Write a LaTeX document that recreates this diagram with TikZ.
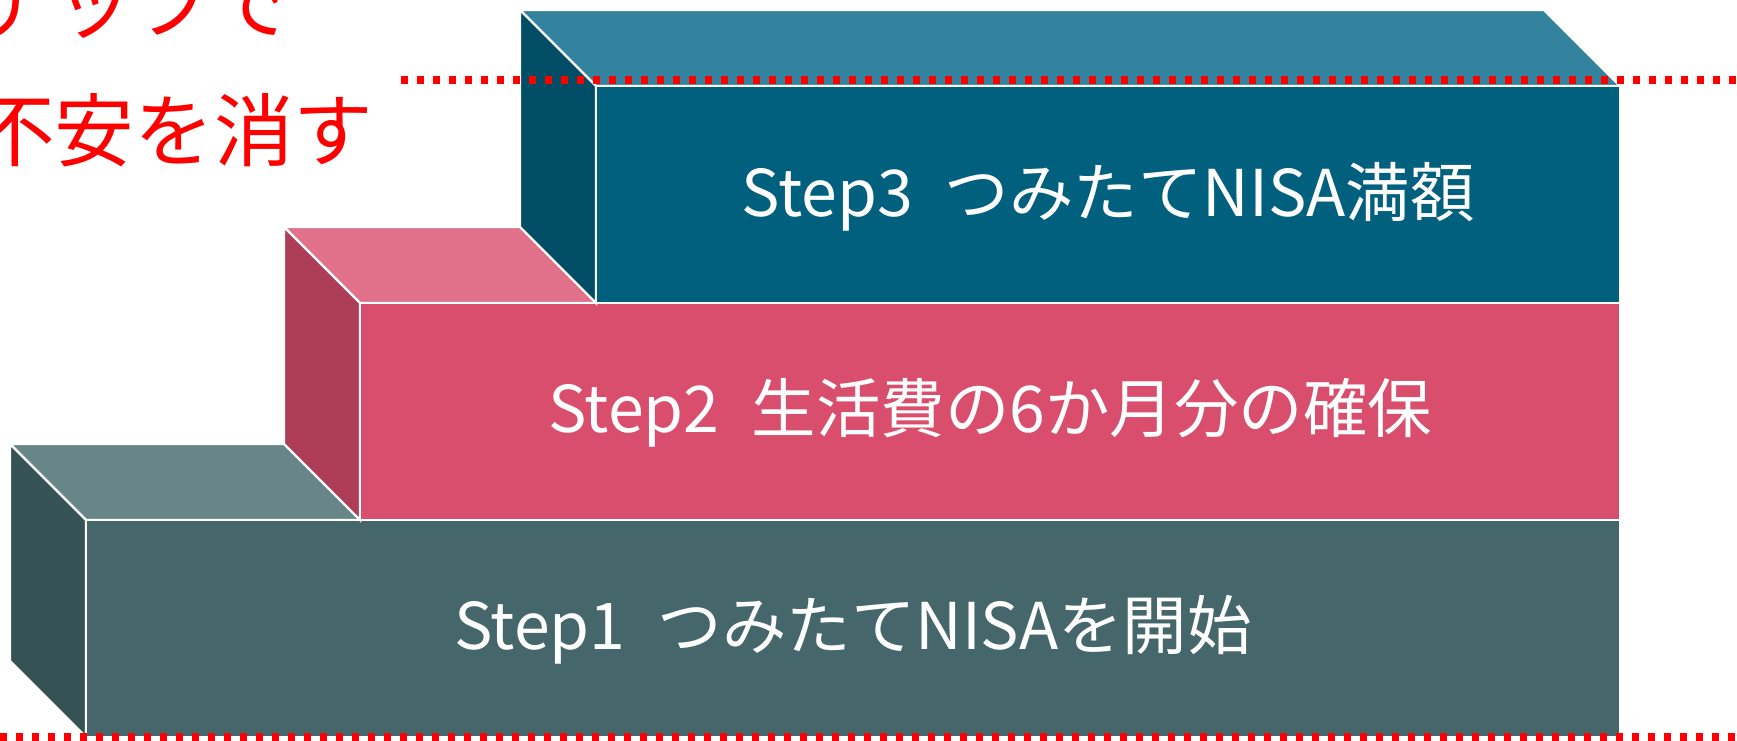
\documentclass[tikz,border=0pt]{standalone}
\usepackage{fontspec}
\setmainfont{Noto Sans CJK JP}
\definecolor{frontone}{HTML}{45676C}
\definecolor{topone}{HTML}{688687}
\definecolor{sideone}{HTML}{365254}
\definecolor{fronttwo}{HTML}{D94E6C}
\definecolor{toptwo}{HTML}{E1718A}
\definecolor{sidetwo}{HTML}{AE3E57}
\definecolor{frontthree}{HTML}{02607F}
\definecolor{topthree}{HTML}{33829E}
\definecolor{sidethree}{HTML}{024D66}
\begin{document}
\begin{tikzpicture}[x=0.03cm,y=-0.03cm,
	face/.style={draw=white,line width=2pt,line join=miter},
	steplabel/.style={text=white,inner sep=0pt,font=\fontsize{55}{66}\selectfont},
	redline/.style={red,line width=0.22cm,dash pattern=on 0.22cm off 0.26cm}]
	\useasboundingbox (0,0) rectangle (1737,741);
	% boxes: left x of front, top y of front
	\foreach \xf/\yf/\c in {86/520/one,360/303/two,596/86/three}
	{
	\draw[face,fill=top\c] (\xf,\yf) -- ++(-76,-76) -- (1544,\yf-76) -- (1620,\yf) -- cycle;
	\draw[face,fill=side\c] (\xf,\yf) -- ++(-76,-76) -- ++(0,217) -- ++(76,76) -- cycle;
	\draw[face,fill=front\c] (\xf,\yf) rectangle (1620,\yf+217);
	}
	% labels
	\node[steplabel] (s1) at (853,630) {Step1\hspace{0.5em}つみたてNISAを開始};
	\node[steplabel] (s2) at (990,413) {Step2\hspace{0.5em}生活費の6か月分の確保};
	\node[steplabel] (s3) at (1108,197) {Step3\hspace{0.5em}つみたてNISA満額};
	% red text
	\node[red,anchor=west,inner sep=0pt,font=\fontsize{68}{80}\selectfont] (t1) at (-105,2) {ステップで};
	\node[red,anchor=west,inner sep=0pt,font=\fontsize{68}{80}\selectfont] (t2) at (-25,130) {不安を消す};
	% dotted lines
	\draw[redline] (401,80) -- (1737,80);
	\draw[redline] (0,737) -- (1737,737);
\end{tikzpicture}
\end{document}
